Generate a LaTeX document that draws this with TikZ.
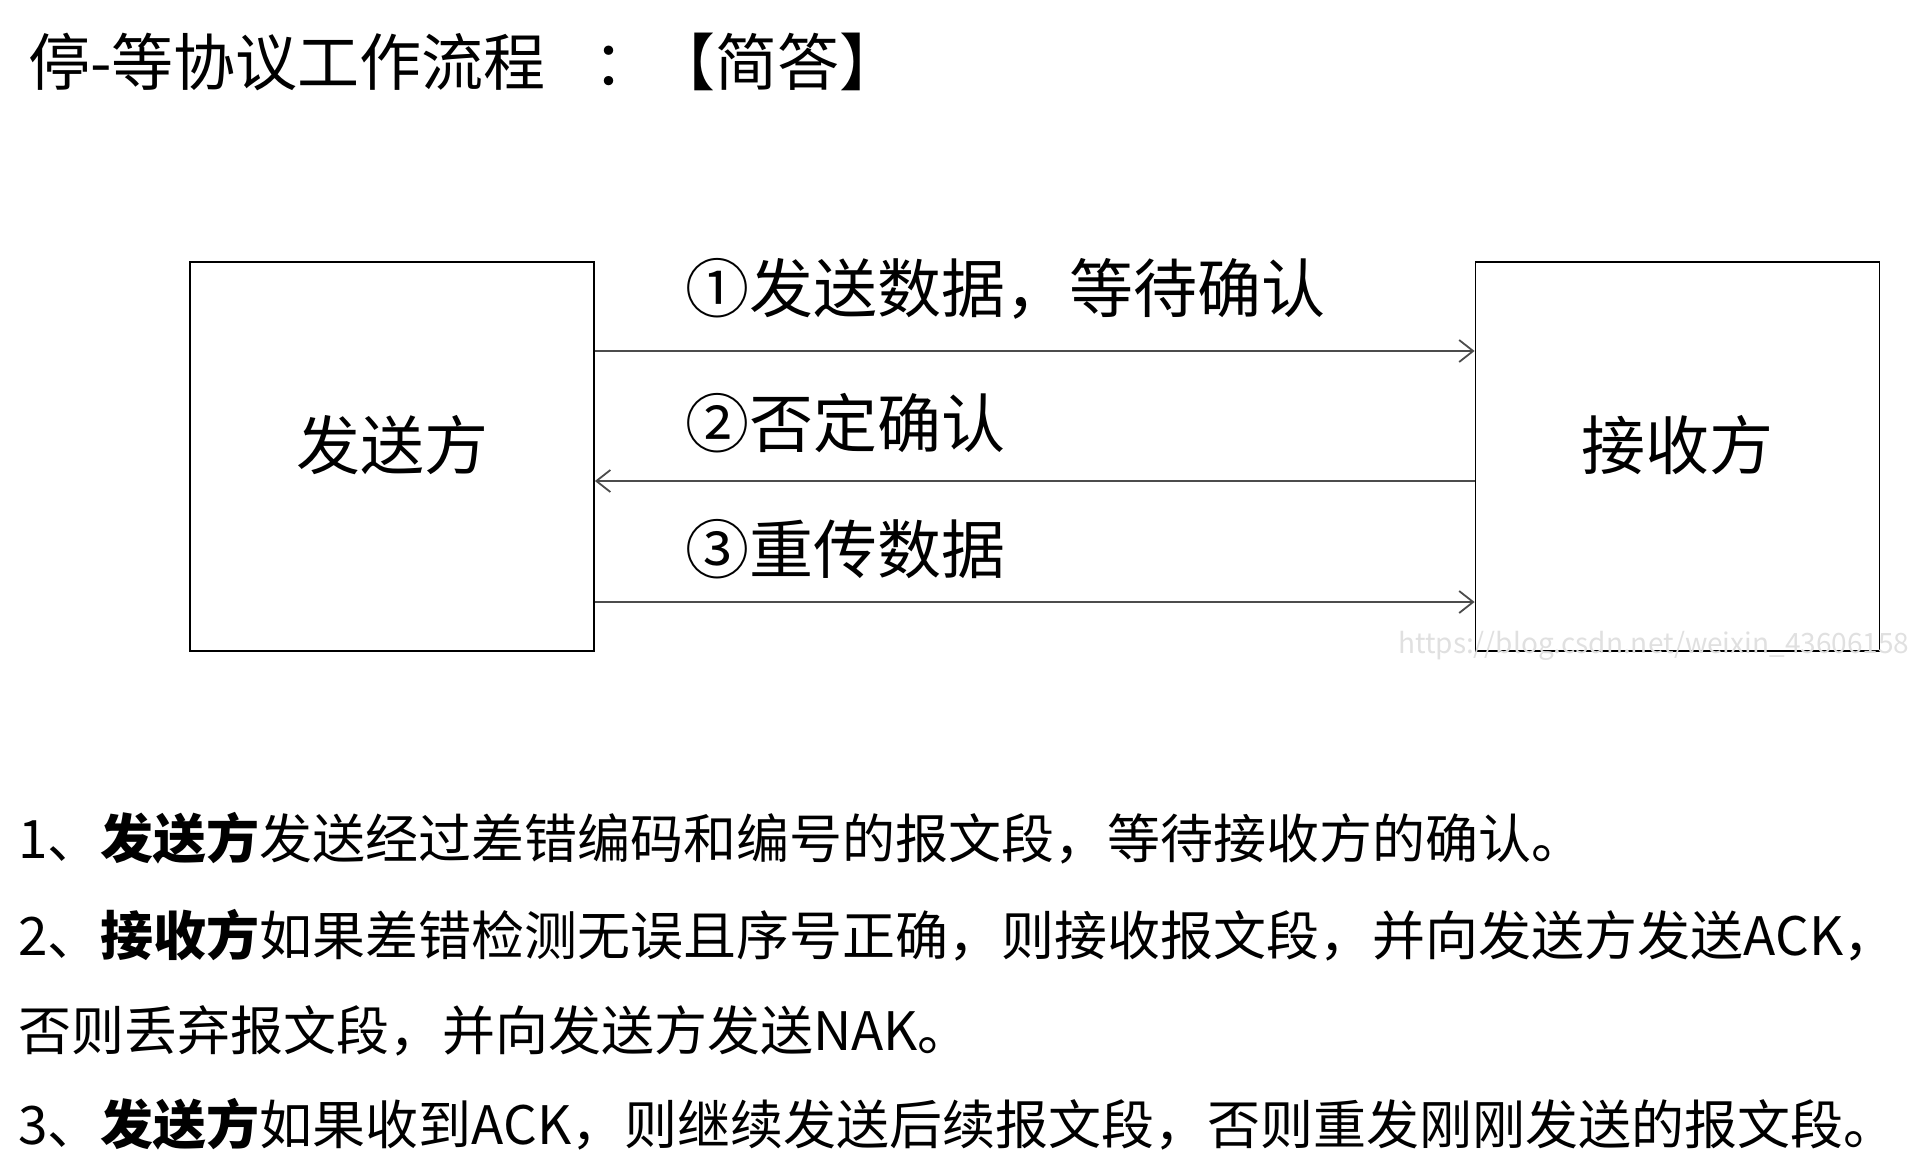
\documentclass[tikz,border=0pt]{standalone}
\usepackage{fontspec}
\setmainfont{Noto Sans CJK SC}
\usetikzlibrary{arrows.meta,positioning}

\begin{document}
\begin{tikzpicture}[
  x=1pt, y=-1pt,
  party/.style={draw, line width=1.8pt, minimum width=404pt, minimum height=389pt,
                text depth=28pt, font=\fontsize{64}{70}\selectfont},
  msg/.style={-{Straight Barb[length=14pt,width=22pt,line width=1.8pt]},
              line width=2.2pt, draw=black!70},
  lab/.style={anchor=base west, inner sep=0pt, font=\fontsize{64}{70}\selectfont},
  para/.style={anchor=base west, inner sep=0pt, font=\fontsize{53}{60}\selectfont}
]
\useasboundingbox (0,0) rectangle (1918,1168);

% title
\node[anchor=base west, inner sep=0pt, font=\fontsize{62}{70}\selectfont] (title) at (28,85)
  {停-等协议工作流程\hspace{48pt}：\hspace{-2pt}【简答】};

% the two parties
\node[party] (sender) at (392,456.5) {发送方};
\node[party] (receiver) at (1677.5,456.5) {接收方};

% messages
\draw[msg] ([yshift=105.5pt]sender.east) -- ([yshift=105.5pt]receiver.west);
\draw[msg] ([yshift=-24.5pt]receiver.west) -- ([yshift=-24.5pt]sender.east);
\draw[msg] ([yshift=-145.5pt]sender.east) -- ([yshift=-145.5pt]receiver.west);

\node[lab] (m1) at (685,312) {①发送数据，等待确认};
\node[lab] (m2) at (685,447) {②否定确认};
\node[lab] (m3) at (685,573) {③重传数据};

\node[anchor=base west, inner sep=0pt, text=black!12, font=\fontsize{28}{30}\selectfont] (wm) at (1398,653)
  {https://blog.csdn.net/weixin\_43606158};

% steps
\node[para] (s1) at (18,858) {1、\textbf{发送方}发送经过差错编码和编号的报文段，等待接收方的确认。};
\node[para] (s2) at (18,955) {2、\textbf{接收方}如果差错检测无误且序号正确，则接收报文段，并向发送方发送ACK，};
\node[para] (s3) at (18,1050) {否则丢弃报文段，并向发送方发送NAK。};
\node[para] (s4) at (18,1144) {3、\textbf{发送方}如果收到ACK，则继续发送后续报文段，否则重发刚刚发送的报文段。};
\end{tikzpicture}
\end{document}
